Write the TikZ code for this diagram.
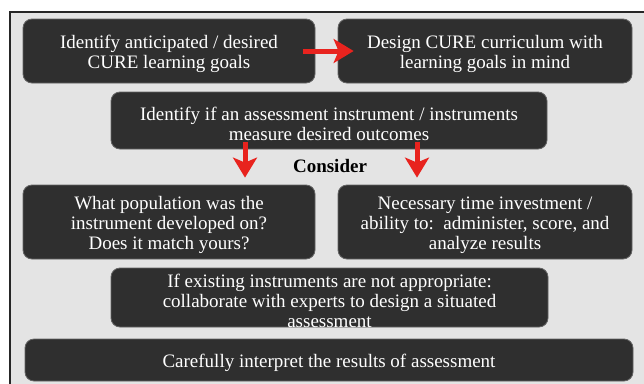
\documentclass[tikz,border=0pt]{standalone}
\usepackage{fontspec}
\setmainfont{Liberation Serif}
\usetikzlibrary{arrows.meta}
\definecolor{bg}{RGB}{228,228,228}
\definecolor{boxfill}{RGB}{47,47,47}
\definecolor{boxedge}{RGB}{100,100,100}
\definecolor{arrowred}{RGB}{232,35,30}
\begin{document}
\begin{tikzpicture}[x=1pt,y=-1pt,
  box/.style={rounded corners=9pt, fill=boxfill, draw=boxedge, line width=0.8pt, inner sep=0pt},
  boxtext/.style={text=white, align=center, font=\fontsize{19}{20}\selectfont,
    inner sep=0pt, yshift=-3pt},
  redarrow/.style={draw=arrowred, line width=5pt,
    -{Stealth[length=20pt,width=24pt,inset=5pt]}}]
\clip (0,0) rectangle (644,383);
\useasboundingbox (0,0) rectangle (644,383);
\fill[white] (0,0) rectangle (644,383);
\draw[fill=bg, draw=black!85, line width=1.6pt] (10,12) rectangle (660,400);

\node[box, minimum width=292pt, minimum height=64pt,
  label={[boxtext]center:{Identify anticipated / desired\\CURE learning goals}}] (b1) at (169,51) {};
\node[box, minimum width=294pt, minimum height=64pt,
  label={[boxtext]center:{Design CURE curriculum with\\learning goals in mind}}] (b2) at (485,51) {};
\node[box, minimum width=436pt, minimum height=57pt,
  label={[boxtext]center:{Identify if an assessment instrument / instruments\\measure desired outcomes}}] (b3) at (329,120.5) {};
\node[box, minimum width=292pt, minimum height=74pt,
  label={[boxtext]center:{What population was the\\instrument developed on?\\Does it match yours?}}] (b4) at (169,222) {};
\node[box, minimum width=294pt, minimum height=74pt,
  label={[boxtext]center:{Necessary time investment /\\ability to:\ \ administer, score, and\\analyze results}}] (b5) at (485,222) {};
\node[box, minimum width=437pt, minimum height=59pt,
  label={[boxtext]center:{If existing instruments are not appropriate:\\collaborate with experts to design a situated\\assessment}}] (b6) at (329.5,297.5) {};
\node[box, minimum width=608pt, minimum height=42pt,
  label={[boxtext]center:{Carefully interpret the results of assessment}}] (b7) at (329,360) {};

\node[font=\bfseries\fontsize{19}{20}\selectfont] (c) at (330,166) {Consider};

\coordinate (d1) at (245,0);
\coordinate (d2) at (417,0);
\draw[redarrow, shorten <=-12pt, shorten >=-16pt] (b1.east) -- (b2.west);
\draw[redarrow] ([yshift=7pt]b3.south -| d1) -- ([yshift=7pt]b4.north -| d1);
\draw[redarrow] ([yshift=7pt]b3.south -| d2) -- ([yshift=7pt]b5.north -| d2);
\end{tikzpicture}
\end{document}
